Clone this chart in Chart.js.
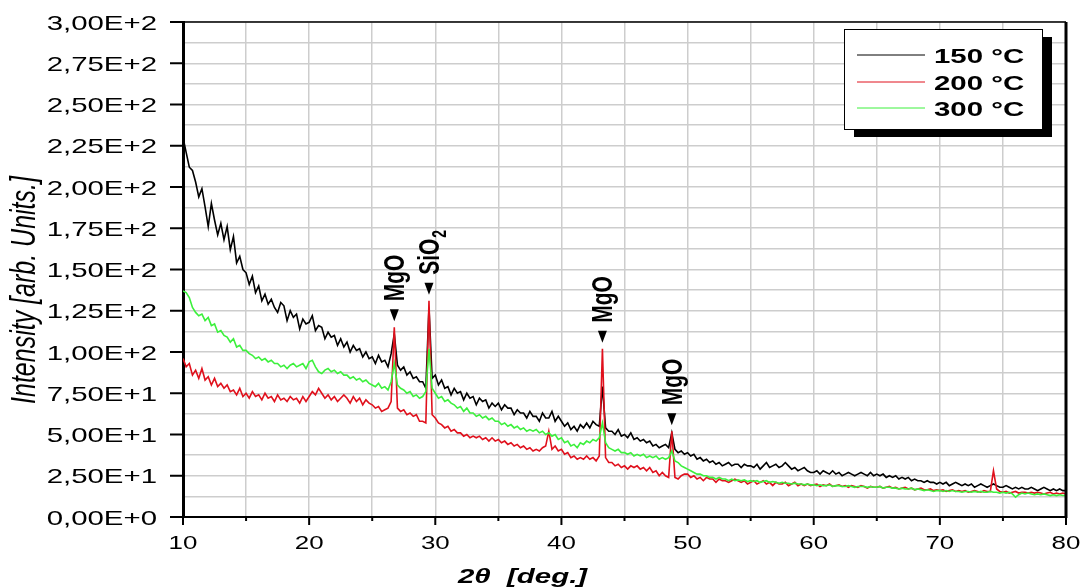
<!DOCTYPE html>
<html>
<head>
<meta charset="utf-8">
<script src="https://cdn.jsdelivr.net/npm/chart.js@4.4.0/dist/chart.umd.min.js"></script>
<style>
  body { margin: 0; background: #fff; }
  #wrap { width: 1084px; height: 588px; }
</style>
</head>
<body>
<div id="wrap"><canvas id="xrd" width="1084" height="588"></canvas></div>
<script>
// scan grid: 10..80 deg, 0.25 deg between samples
const startAngle = 10;
const angleStep = 0.25;

const seriesNames = ['150 °C', '200 °C', '300 °C'];
const seriesColors = ['#000000', '#e0101c', '#3cf03c'];

// intensities, one row per 5 deg
const int150 = [
  230, 221, 212, 210, 203, 194, 199, 188, 176, 190, 180, 171, 178, 168, 176, 162, 170, 154, 158, 150,
  148, 141, 146, 136, 140, 131, 135, 129, 132, 127, 124, 130, 128, 119, 125, 121, 123, 114, 120, 117,
  118, 122, 113, 116, 115, 108, 112, 109, 110, 104, 108, 103, 106, 100, 104, 101, 102, 97, 100, 96,
  97, 93, 98, 94, 95, 91, 99, 111, 92, 89, 91, 86, 88, 84, 85, 82, 82, 78, 127, 84,
  86, 80, 83, 78, 79, 74, 78, 75, 76, 71, 75, 72, 73, 68, 72, 70, 71, 66, 69, 67,
  69, 65, 68, 66, 66, 62, 65, 63, 63, 60, 64, 61, 61, 58, 63, 60, 60, 64, 58, 61,
  58, 55, 57, 53, 55, 52, 56, 54, 57, 54, 58, 56, 55, 79, 54, 52, 52, 50, 53, 49,
  50, 48, 51, 47, 48, 46, 47, 45, 46, 43, 44, 42, 43, 44, 42, 51, 41, 39, 40, 38,
  39, 37, 38, 35, 36, 34, 35, 33, 34, 32, 33, 31, 32, 33, 31, 32, 32, 30, 32, 31,
  31, 30, 32, 29, 31, 33, 30, 31, 32, 30, 31, 33, 31, 29, 30, 28, 29, 30, 28, 27,
  27, 28, 26, 28, 27, 26, 28, 26, 27, 25, 26, 27, 26, 25, 26, 27, 26, 25, 27, 25,
  26, 25, 26, 24, 25, 24, 25, 23, 24, 23, 24, 22, 23, 22, 22, 21, 22, 21, 21, 20,
  21, 20, 21, 19, 20, 21, 20, 19, 20, 19, 20, 18, 19, 20, 19, 18, 19, 20, 19, 18,
  18, 19, 18, 17, 18, 17, 18, 17, 17, 18, 17, 16, 17, 18, 17, 16, 17, 16, 17, 16,
  16
];

const int200 = [
  96, 91, 93, 86, 89, 84, 90, 83, 85, 80, 84, 79, 81, 78, 80, 76, 77, 74, 78, 73,
  75, 72, 76, 73, 74, 71, 75, 72, 73, 70, 74, 71, 72, 70, 73, 71, 72, 69, 73, 70,
  73, 76, 74, 78, 75, 72, 74, 71, 73, 70, 72, 74, 72, 69, 73, 70, 72, 68, 71, 69,
  68, 66, 67, 64, 65, 66, 70, 115, 66, 64, 65, 62, 63, 61, 62, 58, 58, 57, 131, 62,
  60, 57, 56, 54, 55, 52, 53, 51, 51, 49, 50, 48, 49, 48, 49, 47, 48, 46, 48, 46,
  47, 45, 46, 44, 45, 43, 44, 42, 43, 41, 42, 40, 41, 40, 42, 43, 52, 41, 43, 40,
  41, 38, 39, 36, 37, 35, 36, 35, 37, 35, 36, 34, 37, 102, 36, 33, 33, 31, 32, 30,
  31, 29, 31, 30, 31, 29, 30, 28, 30, 27, 28, 25, 27, 25, 24, 52, 24, 23, 25, 26,
  26, 24, 25, 23, 24, 22, 24, 23, 23, 21, 23, 22, 22, 21, 22, 23, 22, 21, 22, 20,
  21, 22, 20, 21, 22, 20, 21, 19, 21, 20, 20, 21, 19, 20, 21, 19, 20, 19, 20, 19,
  19.5, 20, 18.5, 19.5, 19, 20, 18.5, 19, 19.5, 18.5, 19, 18, 19, 18.5, 18, 19, 18.5, 17.5, 18.5, 18,
  18, 18.5, 17.5, 18, 18.5, 17.5, 18, 17, 17.5, 18, 17, 17.5, 16.5, 17, 17.5, 16.5, 16.5, 17, 16, 16.5,
  16, 16.5, 15.5, 16, 16.5, 15.5, 16, 15.5, 16, 15, 15.5, 16, 15.5, 15, 16, 15.5, 15.5, 28, 17, 15.5,
  15, 15.5, 14.5, 15, 15.5, 14.5, 15, 15, 14.5, 15, 14.5, 15, 14.5, 14, 14.5, 15, 14, 14.5, 14, 14.5,
  14
];

const int300 = [
  137, 136, 133, 127, 124, 122, 123, 119, 121, 116, 117, 112, 113, 110, 109, 106, 108, 103, 104, 101,
  101, 99, 98, 96, 97, 95, 96, 94, 95, 93, 93, 91, 92, 90, 92, 93, 91, 92, 93, 90,
  94, 95, 91, 88, 87, 89, 90, 88, 89, 87, 88, 86, 86, 84, 85, 83, 84, 82, 83, 81,
  80, 79, 81, 78, 79, 77, 82, 93, 80, 78, 77, 75, 76, 73, 74, 72, 73, 76, 102, 78,
  75, 72, 73, 70, 71, 69, 68, 66, 67, 64, 66, 63, 63, 61, 62, 60, 61, 59, 60, 58,
  58, 56, 57, 55, 56, 54, 55, 53, 54, 52, 53, 52, 53, 51, 52, 50, 51, 49, 50, 47,
  48, 45, 46, 43, 44, 42, 45, 44, 46, 45, 47, 46, 48, 57, 45, 42, 41, 40, 41, 39,
  39, 38, 39, 37, 38, 37, 38, 36, 37, 36, 37, 35, 36, 35, 36, 40, 34, 33, 31, 30,
  29, 28, 27, 26, 26, 25, 25, 24, 24, 23, 24, 23, 23, 22, 23, 22, 22.5, 22, 22.5, 21.5,
  22, 21.5, 22, 21, 21.5, 22, 21, 21.5, 21, 20.5, 21, 20.5, 20.5, 20, 20.5, 20, 20, 19.5, 20, 19.5,
  19.5, 19, 19.5, 19, 19, 19.5, 18.5, 19, 19, 18.5, 18.5, 19, 18.5, 18, 18.5, 18.5, 18.5, 18, 18.5, 18,
  18, 18.5, 17.5, 18, 18, 17.5, 17.5, 17, 17.5, 17, 17, 17.5, 16.5, 17, 16.5, 16, 16.5, 16, 15.5, 16,
  16, 15.5, 16, 15.5, 16, 15.5, 15.5, 15, 15.5, 15.5, 15, 15.5, 15, 15.5, 15, 15, 15.5, 15, 15, 14.5,
  15, 14.5, 15, 14, 12, 13.5, 14.5, 14, 14.5, 14, 13.5, 14, 13.5, 14, 13.5, 13, 13.5, 13, 13.5, 13,
  13
];

// phase markers
const peakLabels = ['MgO', 'SiO2', 'MgO', 'MgO'];
const peakAngles = [26.75, 29.5, 43.25, 48.75];
const peakHeights = [115, 131, 102, 52];

const yTickValues = [0, 25, 50, 75, 100, 125, 150, 175, 200, 225, 250, 275, 300];
const yTickLabels = ['0,00E+0', '2,50E+1', '5,00E+1', '7,50E+1', '1,00E+2', '1,25E+2', '1,50E+2',
  '1,75E+2', '2,00E+2', '2,25E+2', '2,50E+2', '2,75E+2', '3,00E+2'];
const xTickValues = [10, 20, 30, 40, 50, 60, 70, 80];
const xMinorValues = [15, 25, 35, 45, 55, 65, 75];

const FONT = '"Liberation Sans", Arial, sans-serif';
const SX = 1.4; // the original picture is stretched sideways

function toPoints(vals) {
  return vals.map((v, i) => ({ x: startAngle + i * angleStep, y: v }));
}

function wideText(ctx, str, x, y, font, align, rotate) {
  ctx.save();
  ctx.translate(x, y);
  ctx.scale(SX, 1);
  if (rotate) ctx.rotate(-Math.PI / 2);
  ctx.font = font;
  ctx.textAlign = align;
  ctx.textBaseline = 'alphabetic';
  ctx.fillStyle = '#000';
  ctx.fillText(str, 0, 0);
  ctx.restore();
}

const decorPlugin = {
  id: 'decor',
  afterDraw(chart) {
    const ctx = chart.ctx;
    const xs = chart.scales.x, ys = chart.scales.y;
    const area = chart.chartArea;

    ctx.save();
    ctx.strokeStyle = '#000';

    // frame top + right
    ctx.lineWidth = 1.5;
    ctx.beginPath();
    ctx.moveTo(area.left, area.top);
    ctx.lineTo(area.right, area.top);
    ctx.stroke();
    ctx.lineWidth = 3;
    ctx.beginPath();
    ctx.moveTo(area.right, area.top);
    ctx.lineTo(area.right, area.bottom + 1);
    ctx.stroke();

    // y ticks and labels
    ctx.lineWidth = 2;
    yTickValues.forEach((v, i) => {
      const py = ys.getPixelForValue(v);
      ctx.beginPath();
      ctx.moveTo(area.left - 13, py);
      ctx.lineTo(area.left, py);
      ctx.stroke();
      wideText(ctx, yTickLabels[i], area.left - 26, py + 7.5, '21px ' + FONT, 'right');
    });

    // x ticks and labels
    xTickValues.forEach(v => {
      const px = xs.getPixelForValue(v);
      ctx.beginPath();
      ctx.moveTo(px, area.bottom);
      ctx.lineTo(px, area.bottom + 8);
      ctx.stroke();
      wideText(ctx, String(v), px, 549, '18.5px ' + FONT, 'center');
    });
    xMinorValues.forEach(v => {
      const px = xs.getPixelForValue(v);
      ctx.beginPath();
      ctx.moveTo(px, area.bottom);
      ctx.lineTo(px, area.bottom + 4);
      ctx.stroke();
    });

    // axis titles
    wideText(ctx, 'Intensity [arb. Units.]', 35, 290, 'italic 25px ' + FONT, 'center', true);
    wideText(ctx, '2\u03b8  [deg.]', 458, 583, 'italic bold 21px ' + FONT, 'left');

    // phase markers
    peakLabels.forEach((lab, i) => {
      const px = xs.getPixelForValue(peakAngles[i]);
      const py = ys.getPixelForValue(peakHeights[i]);
      ctx.fillStyle = '#000';
      ctx.beginPath();
      ctx.moveTo(px - 4.5, py - 18);
      ctx.lineTo(px + 4.5, py - 18);
      ctx.lineTo(px, py - 6);
      ctx.closePath();
      ctx.fill();

      ctx.save();
      ctx.translate(px + 10, py - 26);
      ctx.scale(SX, 1);
      ctx.rotate(-Math.PI / 2);
      ctx.font = 'bold 21px ' + FONT;
      ctx.textAlign = 'left';
      ctx.textBaseline = 'alphabetic';
      if (lab === 'SiO2') {
        ctx.fillText('SiO', 0, 0);
        const w = ctx.measureText('SiO').width;
        ctx.font = 'bold 14px ' + FONT;
        ctx.fillText('2', w + 1, 5);
      } else {
        ctx.fillText(lab, 0, 0);
      }
      ctx.restore();
    });

    // legend box with drop shadow
    const lx = 844, ly = 29, lw = 198, lh = 100;
    ctx.fillStyle = '#000';
    ctx.fillRect(lx + 10, ly + 8, lw, lh);
    ctx.fillStyle = '#fff';
    ctx.fillRect(lx, ly, lw, lh);
    ctx.lineWidth = 1;
    ctx.strokeStyle = '#000';
    ctx.strokeRect(lx + 0.5, ly + 0.5, lw, lh);
    const rowY = [55, 82, 108];
    seriesNames.forEach((name, i) => {
      ctx.strokeStyle = seriesColors[i];
      ctx.lineWidth = 1;
      ctx.beginPath();
      ctx.moveTo(857, rowY[i]);
      ctx.lineTo(925, rowY[i]);
      ctx.stroke();
      wideText(ctx, name, 934, rowY[i] + 8, 'bold 21px ' + FONT, 'left');
    });

    ctx.restore();
  }
};

const datasets = [int150, int200, int300].map((vals, i) => ({
  label: seriesNames[i],
  data: toPoints(vals),
  borderColor: seriesColors[i],
  borderWidth: 1.6,
  pointRadius: 0,
  tension: 0,
  fill: false,
  order: 3 - i
}));

new Chart(document.getElementById('xrd'), {
  type: 'line',
  data: { datasets },
  options: {
    responsive: false,
    animation: false,
    events: [],
    layout: { padding: { top: 22, right: 18, left: 0, bottom: 0 } },
    plugins: { legend: { display: false }, tooltip: { enabled: false } },
    scales: {
      x: {
        type: 'linear',
        min: 10,
        max: 80,
        ticks: { display: false, stepSize: 5 },
        grid: { color: '#cdcdcd', lineWidth: 1.5, drawTicks: false },
        border: { color: '#000', width: 2 },
        afterFit: s => { s.height = 71; }
      },
      y: {
        min: 0,
        max: 300,
        ticks: { display: false, stepSize: 12.5 },
        grid: { color: '#cdcdcd', lineWidth: 1.5, drawTicks: false },
        border: { color: '#000', width: 3 },
        afterFit: s => { s.width = 183; }
      }
    }
  },
  plugins: [decorPlugin]
});
</script>
</body>
</html>
